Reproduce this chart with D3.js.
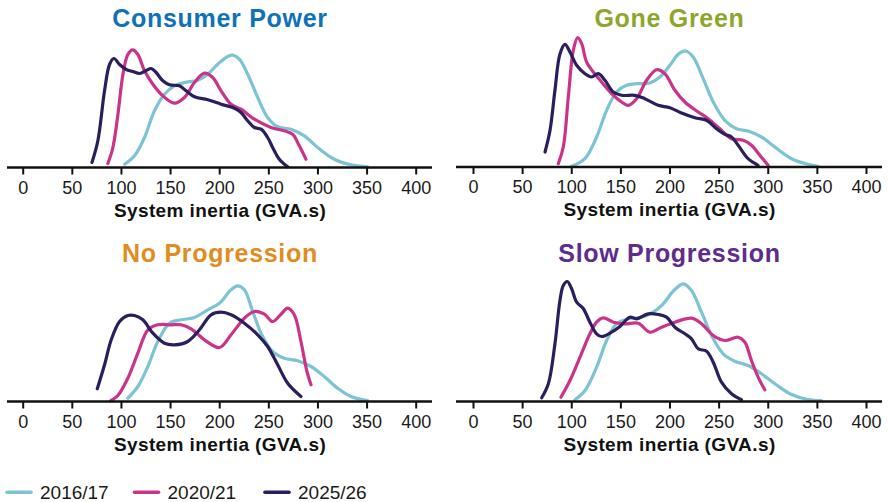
<!DOCTYPE html>
<html>
<head>
<meta charset="utf-8">
<script src="https://cdn.jsdelivr.net/npm/d3@7"></script>
<style>
  html, body { margin: 0; padding: 0; background: #fff; }
  svg { display: block; }
</style>
</head>
<body>
<svg id="chart" width="889" height="502"></svg>
<script>
// ---------------- DATA ----------------
const scenarios = ["Consumer Power", "Gone Green", "No Progression", "Slow Progression"];
const scenarioColors = ["#0f71b8", "#8da72d", "#e08d1f", "#5e2c8c"];
const seriesNames = ["2016/17", "2020/21", "2025/26"];
const seriesColors = ["#7cc3d3", "#c9348a", "#2a1e5c"];
const xTicks = [0, 50, 100, 150, 200, 250, 300, 350, 400];
const xLabel = "System inertia (GVA.s)";

// density curves: [system inertia (GVA.s), relative density]
const cp2016 = [[103.7,3.3],[113.8,11.7],[124,30],[134.1,56.7],[144.3,73.3],[154.5,81.7],[164.6,85],[178.2,87.3],[188.4,93.3],[198.5,103.3],[208.7,111],[213.8,112.3],[220.5,108.3],[229,93.3],[239.2,70],[249.3,50],[259.5,40.7],[273,38.3],[286.6,31.7],[300.2,20],[317.1,8.3],[334,2.7],[351,0.7]];
const cp2020 = [[86.7,4],[91.8,20],[96.9,53],[102,93],[107,113],[112,117.7],[117.2,113],[124,96.7],[132.5,83.3],[142.6,71.7],[154.5,64.3],[164.6,70],[174.8,85],[185,94.3],[193.4,90],[201.9,76.7],[212,63.3],[222.2,58.3],[235.8,48.3],[252.7,40],[266.3,36.7],[274.7,33.3],[281.5,21.7],[288.3,8.3]];
const cp2025 = [[70.5,5],[76.5,26.7],[83.3,76.7],[88.4,103],[92.8,109],[98.6,103],[105.3,98],[112,96],[119,94],[125.7,97],[130.8,99],[135.8,95],[142.6,86.7],[149.4,82.7],[159.5,81.7],[166.3,76.7],[174.8,70.7],[188.4,67.7],[201.9,63.3],[215.5,59.3],[222.2,55],[229,46.7],[235.8,40],[242.6,38.3],[249.3,30],[254.4,20],[261.2,8.3],[269.7,0.7]];

const gg2016 = [[100.4,0.7],[113.9,8.3],[125.8,30],[136,56.7],[146.2,75],[156.3,81.7],[168.2,83.3],[180,84],[190.2,90],[200.4,101.7],[208.9,112.7],[216.3,116],[224.1,110],[234.3,88.3],[244.5,65],[256.3,46.7],[268.2,38.3],[280,36],[293.6,30],[307.2,20],[324.1,8.3],[341.1,2.7],[351.3,0.7]];
const gg2020 = [[86.8,3.3],[91.9,20],[97,70],[102.1,116.7],[106.5,129.3],[110.6,123.3],[115.6,105],[122.4,95],[130.9,85],[141.1,73.3],[151.2,65],[158,61.7],[166.5,68.3],[176.7,86.7],[186.8,97.3],[195.3,93.3],[205.5,76.7],[215.6,65],[229.2,55],[239.4,48.3],[251.2,38.3],[263.1,28.3],[275,26.7],[283.4,21.7],[291.9,11.7],[300.4,1.7]];
const gg2025 = [[73.3,15],[78.4,36.7],[83.4,76.7],[88.5,113],[93.6,122.7],[98.7,115],[105.5,101.7],[114,93.3],[120.7,90],[127.5,93.3],[134.3,86.7],[142.8,75],[151.2,71.7],[164.8,71.7],[174.9,68.3],[188.5,61.7],[200.4,59.3],[212.3,54],[225.8,49.3],[237.7,46.7],[247.9,38.3],[256.3,32.7],[263.1,30],[269.9,21.7],[280,8.3],[290.2,1.7]];

const np2016 = [[107,3.3],[117.2,15],[127.4,35],[137.5,60],[149.4,78.3],[161.3,81.7],[174.8,84],[188.4,91.7],[200.2,98.3],[212.1,111.7],[218.8,115.7],[225.6,111.7],[234.1,90],[242.6,68.3],[254.4,50],[266.3,43.3],[279.8,40.7],[293.4,35],[306.9,25],[320.5,13.3],[334,5],[351,1]];
const np2020 = [[89.4,0.7],[96.9,6],[107,23.3],[117.2,48.3],[127.4,71.7],[137.5,76.7],[151.1,76.7],[161.3,76.7],[171.4,72.7],[185,61.7],[200.2,54],[212.1,66.7],[225.6,83.3],[235.8,90],[246,87.3],[254.4,80],[262.9,87.3],[269.7,93.3],[276.4,86.7],[283.2,60],[289.3,30],[293.4,16.7]];
const np2025 = [[75.9,12.7],[83.3,36.7],[90.1,61.7],[98.6,80],[107,86],[113.8,86],[122.3,81.7],[132.5,68.3],[144.3,58.3],[154.5,56.7],[168,60],[179.9,71.7],[191.7,86.7],[201.9,89.3],[212.1,86.7],[225.6,78.3],[239.2,66.7],[249.3,55],[259.5,36.7],[269.7,18.3],[283.2,5]];

const sp2016 = [[103.8,1.7],[114,11],[125.8,34.3],[136,61],[146.2,77.7],[158,82.7],[171.6,84.3],[183.4,89.3],[193.6,97.7],[203.8,110.3],[213.9,117.7],[222.4,111],[232.6,89.3],[242.8,66],[254.6,47.7],[266.5,40.3],[280,36],[293.6,27.7],[307.2,17.7],[324.1,7],[341.1,2],[354.6,1]];
const sp2020 = [[89.5,4.3],[98.7,21],[108.9,44.3],[119,67.7],[125.8,79.3],[132.6,83.7],[142.8,79.3],[154.6,77.7],[168.2,78.3],[180,69.3],[191.9,74.3],[205.5,79.3],[222.4,83.3],[232.6,77.7],[244.5,66],[256.3,61],[269.9,64.3],[276.7,59.3],[283.4,41],[290.2,24.3],[297,11.7]];
const sp2025 = [[69.9,3.7],[76.7,17.7],[83.4,57.7],[88.5,101],[91.9,116],[96,120],[100.4,112.7],[105.5,99.3],[112.3,92.7],[119,79.3],[125.8,67.7],[130.9,65],[141.1,69.3],[149.5,75],[159.7,84.3],[166.5,82.7],[178.4,87.7],[188.5,87],[197,84.3],[205.5,74.3],[215.6,67.7],[222.4,62.7],[229.2,52.7],[237.7,50.3],[244.5,39.3],[252.9,19.3],[263.1,7.7],[273.3,1.7]];

const scenarioSeries = [
  [cp2016, cp2020, cp2025],
  [gg2016, gg2020, gg2025],
  [np2016, np2020, np2025],
  [sp2016, sp2020, sp2025]
];

// ---------------- LAYOUT ----------------
const panels = [
  { left: 22.7, axisY: 167.5, lineX0: 7,   lineX1: 432, titleY: 27 },
  { left: 473,  axisY: 167,   lineX0: 456, lineX1: 882, titleY: 27.3 },
  { left: 22.7, axisY: 401.5, lineX0: 7,   lineX1: 432, titleY: 261.7 },
  { left: 473,  axisY: 401.5, lineX0: 456, lineX1: 882, titleY: 261.7 }
];
const plotW = 393;   // px for 0..400
const FONT = "'Liberation Sans', Arial, Helvetica, sans-serif";

const svg = d3.select("#chart");

panels.forEach((p, i) => {
  const g = svg.append("g");
  const x = d3.scaleLinear().domain([0, 400]).range([p.left, p.left + plotW]);
  const y = d3.scaleLinear().domain([0, 130]).range([p.axisY, p.axisY - 130]);
  const cx = (p.lineX0 + p.lineX1) / 2 + 0.5;

  // title
  g.append("text")
    .attr("x", cx).attr("y", p.titleY)
    .attr("text-anchor", "middle")
    .attr("font-family", FONT)
    .attr("font-weight", "bold")
    .attr("font-size", 25)
    .attr("letter-spacing", 0.7)
    .attr("fill", scenarioColors[i])
    .text(scenarios[i]);

  // curves
  const line = d3.line()
    .x(d => x(d[0]))
    .y(d => y(d[1]))
    .curve(d3.curveCatmullRom.alpha(0.5));

  scenarioSeries[i].forEach((data, k) => {
    g.append("path")
      .datum(data)
      .attr("d", line)
      .attr("fill", "none")
      .attr("stroke", seriesColors[k])
      .attr("stroke-width", 3.2)
      .attr("stroke-linecap", "round")
      .attr("stroke-linejoin", "round");
  });

  // axis
  const axis = d3.axisBottom(x).tickValues(xTicks).tickSize(7).tickSizeOuter(0);
  const ag = g.append("g").attr("transform", `translate(0,${p.axisY})`).call(axis);
  ag.select(".domain").remove();
  ag.selectAll(".tick line").attr("stroke", "#111").attr("stroke-width", 2);
  ag.selectAll(".tick text")
    .attr("font-family", FONT)
    .attr("font-size", 18)
    .attr("fill", "#1a1a1a")
    .attr("y", 26)
    .attr("dy", 0);
  g.append("line")
    .attr("x1", p.lineX0).attr("x2", p.lineX1)
    .attr("y1", p.axisY).attr("y2", p.axisY)
    .attr("stroke", "#111").attr("stroke-width", 2.6);

  // axis title
  g.append("text")
    .attr("x", cx).attr("y", p.axisY + 49)
    .attr("text-anchor", "middle")
    .attr("font-family", FONT)
    .attr("font-weight", "bold")
    .attr("font-size", 19)
    .attr("letter-spacing", 0.4)
    .attr("fill", "#111")
    .text(xLabel);
});

// legend
const legendX = [7, 134.5, 265];
const lg = svg.append("g");
seriesNames.forEach((name, k) => {
  lg.append("line")
    .attr("x1", legendX[k]).attr("x2", legendX[k] + 24)
    .attr("y1", 492.3).attr("y2", 492.3)
    .attr("stroke", seriesColors[k])
    .attr("stroke-width", 3.6)
    .attr("stroke-linecap", "round");
  lg.append("text")
    .attr("x", legendX[k] + 33).attr("y", 499)
    .attr("font-family", FONT)
    .attr("font-size", 19)
    .attr("fill", "#1a1a1a")
    .text(name);
});
</script>
</body>
</html>
